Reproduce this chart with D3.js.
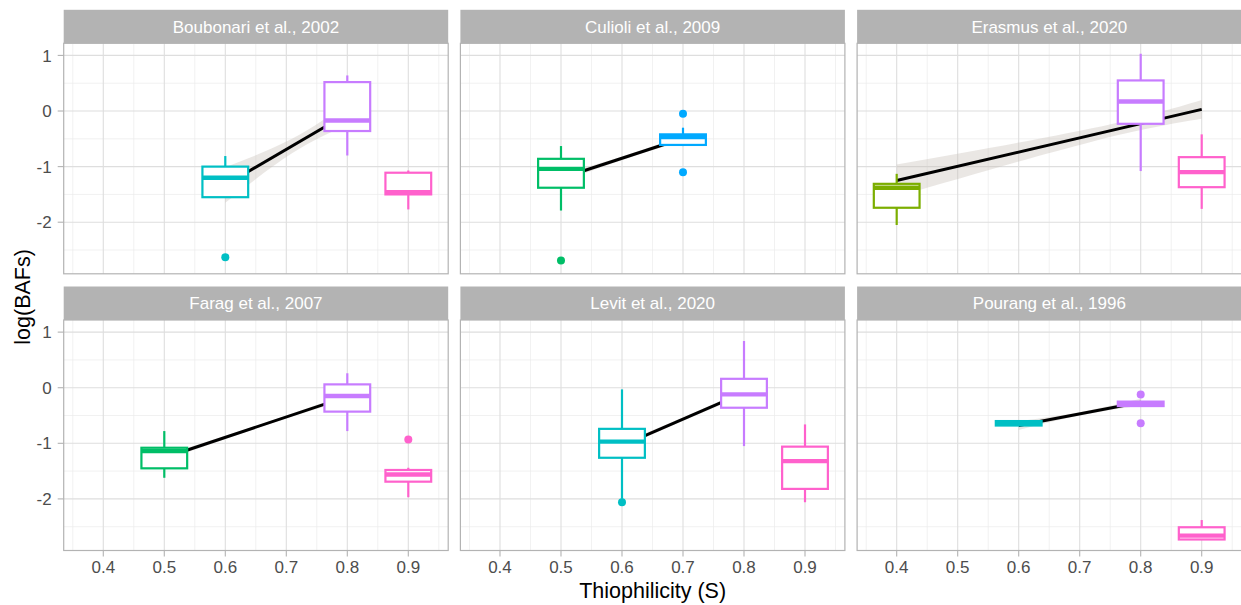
<!DOCTYPE html>
<html>
<head>
<meta charset="utf-8">
<script src="https://cdn.jsdelivr.net/npm/d3@7"></script>
<style>
  body { margin: 0; background: #fff; }
  text { font-family: "Liberation Sans", Arial, sans-serif; }
</style>
</head>
<body>
<div id="chart"></div>
<script>
const studies = [
  "Boubonari et al., 2002", "Culioli et al., 2009", "Erasmus et al., 2020",
  "Farag et al., 2007", "Levit et al., 2020", "Pourang et al., 1996"
];
const sLevels = [0.4, 0.5, 0.6, 0.7, 0.8, 0.9];
const sColors = ["#7CAE00", "#00BE67", "#00BFC4", "#00A9FF", "#C77CFF", "#FF61CC"];

// [study, S, lower whisker, Q1, median, Q3, upper whisker]
const boxes = [
  [0, 0.6, -1.55, -1.55, -1.20, -1.00, -0.81],
  [0, 0.8, -0.80, -0.36, -0.17, 0.52, 0.64],
  [0, 0.9, -1.77, -1.50, -1.46, -1.11, -1.07],
  [1, 0.5, -1.79, -1.38, -1.04, -0.86, -0.63],
  [1, 0.7, -0.63, -0.61, -0.47, -0.42, -0.30],
  [2, 0.4, -2.05, -1.74, -1.38, -1.31, -1.13],
  [2, 0.8, -1.08, -0.23, 0.17, 0.55, 1.03],
  [2, 0.9, -1.76, -1.37, -1.10, -0.83, -0.42],
  [3, 0.5, -1.62, -1.45, -1.14, -1.08, -0.78],
  [3, 0.8, -0.78, -0.43, -0.15, 0.06, 0.26],
  [3, 0.9, -1.97, -1.69, -1.56, -1.48, -1.44],
  [4, 0.6, -2.00, -1.26, -0.97, -0.74, -0.03],
  [4, 0.8, -1.05, -0.36, -0.12, 0.16, 0.84],
  [4, 0.9, -2.06, -1.82, -1.32, -1.06, -0.66],
  [5, 0.6, -0.68, -0.68, -0.64, -0.60, -0.60],
  [5, 0.8, -0.34, -0.33, -0.29, -0.25, -0.24],
  [5, 0.9, -2.74, -2.73, -2.66, -2.51, -2.38]
];

// [study, S, value]
const outliers = [
  [0, 0.6, -2.63],
  [1, 0.5, -2.69], [1, 0.7, -0.05], [1, 0.7, -1.10],
  [3, 0.9, -0.93],
  [4, 0.6, -2.06],
  [5, 0.8, -0.12], [5, 0.8, -0.64]
];

// linear fit: [study, S start, fit start, S end, fit end]
const fits = [
  [0, 0.6, -1.33, 0.8, -0.05],
  [1, 0.5, -1.21, 0.7, -0.49],
  [2, 0.4, -1.25, 0.9, 0.03],
  [3, 0.5, -1.26, 0.8, -0.16],
  [4, 0.6, -1.04, 0.8, -0.09],
  [5, 0.6, -0.68, 0.8, -0.26]
];

// confidence band half-width: [study, at start, S of narrowest, narrowest, at end]
const bands = [
  [0, 0.32, 0.71, 0.13, 0.20],
  [1, 0.06, 0.62, 0.03, 0.06],
  [2, 0.29, 0.72, 0.12, 0.17],
  [3, 0.05, 0.68, 0.025, 0.05],
  [4, 0.05, 0.70, 0.03, 0.05],
  [5, 0.08, 0.70, 0.03, 0.06]
];

const xTicks = [0.4, 0.5, 0.6, 0.7, 0.8, 0.9];
const xMinor = [0.35, 0.45, 0.55, 0.65, 0.75, 0.85, 0.95];
const yTicks = [-2, -1, 0, 1];
const yMinor = [-2.5, -1.5, -0.5, 0.5];

const width = 1241, height = 605;
const colX = [63.7, 460.4, 857.1];
const rowY = [43.3, 320];
const panelW = 384.5, panelH = 230.5, stripH = 33.5;
const boxW = 0.075;

const x = d3.scaleLinear().domain([0.3351, 0.9654]).range([0, panelW]);
const y = d3.scaleLinear().domain([-2.928, 1.218]).range([panelH, 0]);
const color = d3.scaleOrdinal().domain(sLevels).range(sColors);

const svg = d3.select('#chart').append('svg')
  .attr('width', width)
  .attr('height', height);

studies.forEach((name, i) => {
  const col = i % 3, row = Math.floor(i / 3);
  const g = svg.append('g').attr('transform', `translate(${colX[col]},${rowY[row]})`);

  g.append('rect').attr('width', panelW).attr('height', panelH).attr('fill', '#fff');

  // grid
  g.selectAll('.xminor').data(xMinor).join('line')
    .attr('x1', d => x(d)).attr('x2', d => x(d)).attr('y1', 0).attr('y2', panelH)
    .attr('stroke', '#EBEBEB').attr('stroke-width', 0.7);
  g.selectAll('.yminor').data(yMinor).join('line')
    .attr('y1', d => y(d)).attr('y2', d => y(d)).attr('x1', 0).attr('x2', panelW)
    .attr('stroke', '#EBEBEB').attr('stroke-width', 0.7);
  g.selectAll('.xmajor').data(xTicks).join('line')
    .attr('x1', d => x(d)).attr('x2', d => x(d)).attr('y1', 0).attr('y2', panelH)
    .attr('stroke', '#DEDEDE').attr('stroke-width', 1.1);
  g.selectAll('.ymajor').data(yTicks).join('line')
    .attr('y1', d => y(d)).attr('y2', d => y(d)).attr('x1', 0).attr('x2', panelW)
    .attr('stroke', '#DEDEDE').attr('stroke-width', 1.1);

  // fit + band
  const f = fits.find(d => d[0] === i);
  const b = bands.find(d => d[0] === i);
  const fitAt = s => f[2] + (f[4] - f[2]) * (s - f[1]) / (f[3] - f[1]);
  const bandPts = [[f[1], b[1]], [b[2], b[3]], [f[3], b[4]]];
  g.append('path')
    .datum(bandPts)
    .attr('fill', '#C8C0B8').attr('fill-opacity', 0.38)
    .attr('d', d3.area()
      .x(d => x(d[0]))
      .y0(d => y(fitAt(d[0]) - d[1]))
      .y1(d => y(fitAt(d[0]) + d[1]))
      .curve(d3.curveNatural));
  g.append('line')
    .attr('x1', x(f[1])).attr('y1', y(f[2]))
    .attr('x2', x(f[3])).attr('y2', y(f[4]))
    .attr('stroke', '#000').attr('stroke-width', 3);

  // boxplots
  const bx = g.selectAll('.box').data(boxes.filter(d => d[0] === i)).join('g');
  bx.append('line')
    .attr('x1', d => x(d[1])).attr('x2', d => x(d[1]))
    .attr('y1', d => y(d[2])).attr('y2', d => y(d[3]))
    .attr('stroke', d => color(d[1])).attr('stroke-width', 2.2);
  bx.append('line')
    .attr('x1', d => x(d[1])).attr('x2', d => x(d[1]))
    .attr('y1', d => y(d[5])).attr('y2', d => y(d[6]))
    .attr('stroke', d => color(d[1])).attr('stroke-width', 2.2);
  bx.append('rect')
    .attr('x', d => x(d[1] - boxW / 2))
    .attr('width', d => x(d[1] + boxW / 2) - x(d[1] - boxW / 2))
    .attr('y', d => y(d[5]))
    .attr('height', d => y(d[3]) - y(d[5]))
    .attr('fill', '#fff')
    .attr('stroke', d => color(d[1])).attr('stroke-width', 2.2);
  bx.append('line')
    .attr('x1', d => x(d[1] - boxW / 2)).attr('x2', d => x(d[1] + boxW / 2))
    .attr('y1', d => y(d[4])).attr('y2', d => y(d[4]))
    .attr('stroke', d => color(d[1])).attr('stroke-width', 4.4);

  g.selectAll('.out').data(outliers.filter(d => d[0] === i)).join('circle')
    .attr('cx', d => x(d[1])).attr('cy', d => y(d[2])).attr('r', 4)
    .attr('fill', d => color(d[1]));

  // border
  g.append('rect').attr('width', panelW).attr('height', panelH)
    .attr('fill', 'none').attr('stroke', '#B3B3B3').attr('stroke-width', 1.2);

  // strip
  g.append('rect')
    .attr('x', 0).attr('y', -stripH).attr('width', panelW).attr('height', stripH)
    .attr('fill', '#B3B3B3');
  g.append('text')
    .attr('x', panelW / 2).attr('y', -stripH / 2).attr('dy', '0.36em')
    .attr('text-anchor', 'middle').attr('fill', '#fff').attr('font-size', 17)
    .text(name);

  if (col === 0) {
    g.selectAll('.ytick').data(yTicks).join('line')
      .attr('x1', -6).attr('x2', 0).attr('y1', d => y(d)).attr('y2', d => y(d))
      .attr('stroke', '#B3B3B3').attr('stroke-width', 1.1);
    g.selectAll('.ylab').data(yTicks).join('text')
      .attr('x', -12).attr('y', d => y(d)).attr('dy', '0.36em')
      .attr('text-anchor', 'end').attr('fill', '#4D4D4D').attr('font-size', 17)
      .text(d => d);
  }
  if (row === 1) {
    g.selectAll('.xtick').data(xTicks).join('line')
      .attr('x1', d => x(d)).attr('x2', d => x(d)).attr('y1', panelH).attr('y2', panelH + 6)
      .attr('stroke', '#B3B3B3').attr('stroke-width', 1.1);
    g.selectAll('.xlab').data(xTicks).join('text')
      .attr('x', d => x(d)).attr('y', panelH + 22)
      .attr('text-anchor', 'middle').attr('fill', '#4D4D4D').attr('font-size', 17)
      .text(d => d3.format('.1f')(d));
  }
});

svg.append('text')
  .attr('x', (colX[0] + colX[2] + panelW) / 2).attr('y', 598)
  .attr('text-anchor', 'middle').attr('font-size', 21.5).attr('fill', '#000')
  .text('Thiophilicity (S)');
svg.append('text')
  .attr('transform', `translate(30,${(rowY[0] + rowY[1] + panelH) / 2}) rotate(-90)`)
  .attr('text-anchor', 'middle').attr('font-size', 21.5).attr('fill', '#000')
  .text('log(BAFs)');
</script>
</body>
</html>
